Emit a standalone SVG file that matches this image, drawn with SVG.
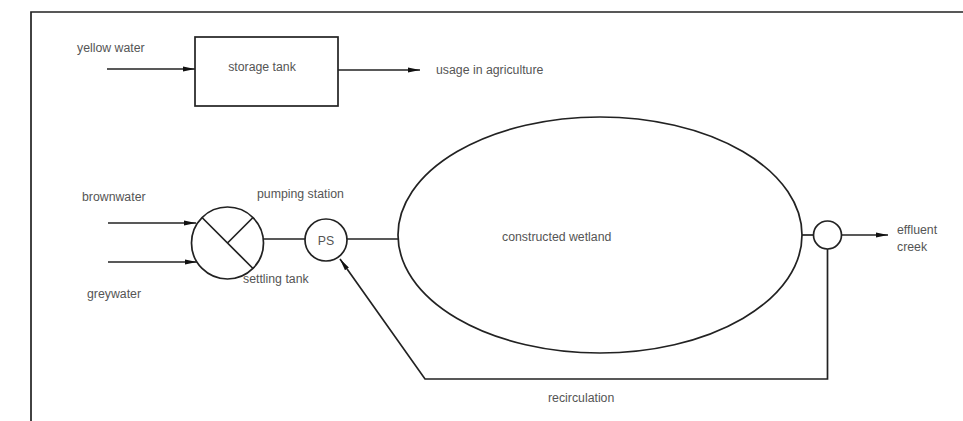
<svg xmlns="http://www.w3.org/2000/svg" width="963" height="421" viewBox="0 0 963 421">
  <style>
    .ln { fill: none; stroke: #222; stroke-width: 1.7; }
    .sh { fill: #fff; stroke: #222; stroke-width: 1.7; }
    .tx { font-family: "Liberation Sans", Arial, sans-serif; font-size: 12.3px; fill: #555; }
    .mid { text-anchor: middle; }
  </style>
  <defs>
    <marker id="arrow" viewBox="0 0 12 6" refX="12" refY="3" markerWidth="12" markerHeight="6" markerUnits="userSpaceOnUse" orient="auto">
      <path d="M0,0.6 L12,3 L0,5.4 Z" fill="#111"/>
    </marker>
  </defs>
  <rect width="963" height="421" fill="#fff"/>

  <!-- frame -->
  <path class="ln" d="M31,421 V12 H963" stroke="#333"/>

  <!-- connectors -->
  <g id="connectors">
    <path class="ln" d="M107,69 H195" marker-end="url(#arrow)"/>
    <path class="ln" d="M338,70 H420" marker-end="url(#arrow)"/>
    <path class="ln" d="M108,223 H196" marker-end="url(#arrow)"/>
    <path class="ln" d="M108,262 H197" marker-end="url(#arrow)"/>
    <path class="ln" d="M263,239 H305"/>
    <path class="ln" d="M347,239 H398"/>
    <path class="ln" d="M802,235 H813"/>
    <path class="ln" d="M841,235 H888" marker-end="url(#arrow)"/>
    <path class="ln" d="M827.5,249 V379 H425 L340,259" marker-end="url(#arrow)"/>
  </g>

  <!-- storage tank -->
  <g id="storage-tank">
    <rect class="sh" x="195" y="37" width="143" height="69"/>
    <text class="tx mid" x="262" y="71">storage tank</text>
  </g>

  <!-- settling tank -->
  <g id="settling-tank">
    <circle class="sh" cx="227.5" cy="243" r="36"/>
    <path class="ln" d="M202,217.5 L253,268.5 M227.5,243 L253,217.5"/>
    <text class="tx" x="243" y="283">settling tank</text>
  </g>

  <!-- pumping station -->
  <g id="pumping-station">
    <circle class="sh" cx="326" cy="240" r="21"/>
    <text class="tx mid" x="326" y="245">PS</text>
    <text class="tx" x="257" y="198">pumping station</text>
  </g>

  <!-- constructed wetland -->
  <g id="constructed-wetland">
    <ellipse class="sh" cx="600" cy="235" rx="202" ry="118"/>
    <text class="tx" x="502" y="241">constructed wetland</text>
  </g>

  <!-- outlet junction -->
  <g id="outlet">
    <circle class="sh" cx="827.5" cy="235" r="14"/>
  </g>

  <!-- labels -->
  <g id="labels">
    <text class="tx" x="77" y="52">yellow water</text>
    <text class="tx" x="436" y="74">usage in agriculture</text>
    <text class="tx" x="82" y="201">brownwater</text>
    <text class="tx" x="87" y="298">greywater</text>
    <text class="tx" x="897" y="234">effluent</text>
    <text class="tx" x="897" y="251">creek</text>
    <text class="tx" x="548" y="402">recirculation</text>
  </g>
</svg>
